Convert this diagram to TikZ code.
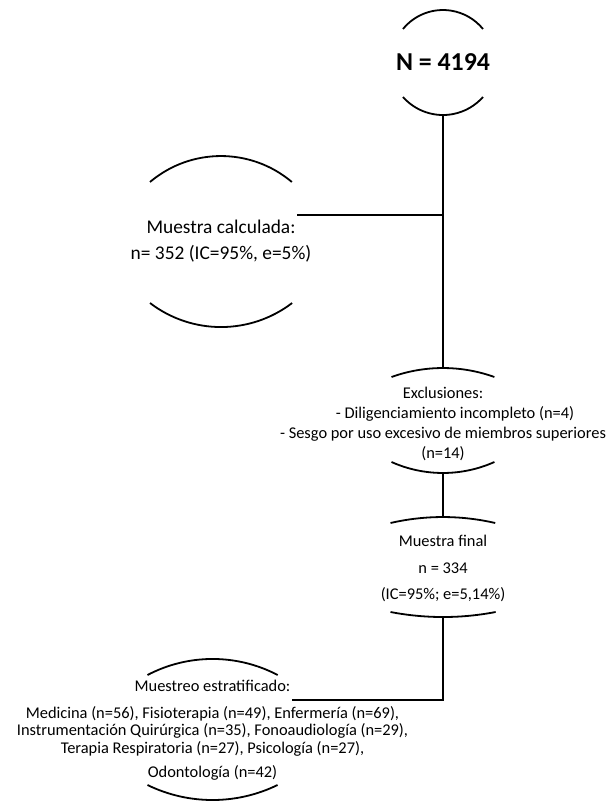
\documentclass[tikz,border=0pt]{standalone}
\usepackage{fontspec}
\setmainfont{Carlito}
\usepackage{tikz}
\usetikzlibrary{positioning}

\begin{document}
\begin{tikzpicture}[x=0.5pt, y=-0.5pt,
      rim/.style={line width=0.9pt, draw=black},
      link/.style={line width=0.9pt, draw=black},
      txt/.style={inner sep=0pt, align=center, text=black,
                  font=\fontsize{8.2}{10}\selectfont}]
    \useasboundingbox (0,0) rectangle (608,802);
    % text of the boxes
    \node[txt, font=\fontsize{12.9}{15}\selectfont\bfseries] (pop) at (443,62.5) {N = 4194};
    \node[txt, font=\fontsize{9.7}{13}\selectfont] (calc) at (221,241.5) {Muestra calculada:\\ n= 352 (IC=95\%, e=5\%)};
    \node[txt] (excl) at (443,424) {Exclusiones:\\ \hspace*{12pt}- Diligenciamiento incompleto (n=4)\\ - Sesgo por uso excesivo de miembros superiores\\ (n=14)};
    \node[txt, font=\fontsize{8.2}{13.25}\selectfont] (final) at (443,568.5) {Muestra final\\ n = 334\\ (IC=95\%; e=5,14\%)};
    \node[txt, font=\fontsize{8.2}{8.8}\selectfont] (strat) at (212.5,730) {Muestreo estratificado:\\[4.7pt]
      Medicina (n=56), Fisioterapia (n=49), Enfermería (n=69),\\
      Instrumentación Quirúrgica (n=35), Fonoaudiología (n=29),\\
      Terapia Respiratoria (n=27), Psicología (n=27),\\[3.2pt]
      Odontología (n=42)};
    % arcs above and below each box
    \draw[rim] ([shift={(-40,-33.5)}]pop.center) arc[start angle=219.2, end angle=320.8, radius=51.6];
    \draw[rim] ([shift={(-40,34.5)}]pop.center) arc[start angle=138.5, end angle=41.5, radius=53.4];
    \draw[rim] ([shift={(-71,-59.5)}]calc.center) arc[start angle=229.8, end angle=310.2, radius=109.9];
    \draw[rim] ([shift={(-71,61.5)}]calc.center) arc[start angle=127.4, end angle=52.6, radius=117];
    \draw[rim] ([shift={(-51.5,-47)}]excl.center) arc[start angle=250.2, end angle=289.8, radius=151.8];
    \draw[rim] ([shift={(-51.5,38)}]excl.center) arc[start angle=114.1, end angle=65.9, radius=126];
    \draw[rim] ([shift={(-52.5,-45.5)}]final.center) arc[start angle=257, end angle=283, radius=232.7];
    \draw[rim] ([shift={(-52.5,43.5)}]final.center) arc[start angle=100.9, end angle=79.1, radius=278];
    \draw[rim] ([shift={(-65,-55)}]strat.center) arc[start angle=242.3, end angle=297.7, radius=140];
    \draw[rim] ([shift={(-65,55)}]strat.center) arc[start angle=116, end angle=64, radius=148.3];
    % connector ends
    \coordinate (pop-s) at (443,115);
    \coordinate (calc-e) at (297,215);
    \coordinate (excl-n) at (443,368);
    \coordinate (excl-s) at (443,473);
    \coordinate (final-n) at (443,517);
    \coordinate (final-s) at (443,617);
    \coordinate (strat-e) at (292,700);
    \draw[link] (pop-s) -- (excl-n);
    \draw[link] (calc-e) -- (calc-e -| pop-s);
    \draw[link] (excl-s) -- (final-n);
    \draw[link] (final-s) |- (strat-e);
  \end{tikzpicture}
\end{document}
